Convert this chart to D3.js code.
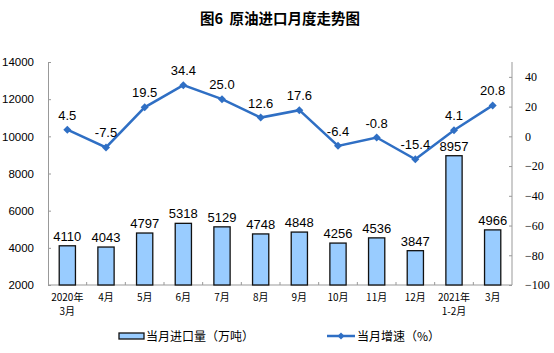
<!DOCTYPE html>
<html><head><meta charset="utf-8">
<script src="https://cdn.jsdelivr.net/npm/d3@7"></script>
<style>body{margin:0;background:#fff}svg{display:block}</style>
</head><body>
<script>
const categories = [["2020年","3月"],["4月"],["5月"],["6月"],["7月"],["8月"],["9月"],["10月"],["11月"],["12月"],["2021年","1-2月"],["3月"]];
const imports = [4110,4043,4797,5318,5129,4748,4848,4256,4536,3847,8957,4966];
const growth = [4.5,-7.5,19.5,34.4,25.0,12.6,17.6,-6.4,-0.8,-15.4,4.1,20.8];
const leftTicks = [2000,4000,6000,8000,10000,12000,14000];
const rightTicks = [-100,-80,-60,-40,-20,0,20,40];
const title = "图6  原油进口月度走势图";
const legendBar = "当月进口量（万吨）";
const legendLine = "当月增速（%）";

const W=554,H=353;
const svg=d3.select("body").append("svg").attr("width",W).attr("height",H);
const x0=48,x1=512,yTop=62,yBot=285;
const x=d3.scaleBand().domain(d3.range(categories.length)).range([x0,x1]).paddingInner(0.58).paddingOuter(0.29);
const xb=d3.scaleBand().domain(d3.range(categories.length)).range([x0,x1]);
const yL=d3.scaleLinear().domain([2000,14000]).range([yBot,yTop]);
const yR=d3.scaleLinear().domain([-100,50]).range([yBot,yTop]);
const blue="#2F6FC4";

svg.append("text").attr("x",280).attr("y",24).attr("text-anchor","middle").style("white-space","pre")
 .attr("font-family","Noto Sans CJK SC").attr("font-weight","bold").attr("font-size",14.5).text(title);

// left axis
const gL=svg.append("g").attr("transform",`translate(${x0},0)`)
 .call(d3.axisLeft(yL).tickValues(leftTicks).tickSize(-3).tickPadding(14).tickFormat(d3.format("d")));
gL.select(".domain").attr("stroke","#999");
gL.selectAll(".tick line").attr("stroke","#999");
gL.selectAll("text").attr("font-family","Liberation Sans").attr("font-size",11.5).attr("fill","#000");
// right axis
const gR=svg.append("g").attr("transform",`translate(${x1},0)`)
 .call(d3.axisRight(yR).tickValues(rightTicks).tickSize(-3).tickPadding(13));
gR.select(".domain").attr("stroke","#999").attr("d",`M0,${yTop}V${yBot}`);
gR.selectAll(".tick line").attr("stroke","#999");
gR.selectAll("text").attr("font-family","Liberation Serif").attr("font-size",12).attr("fill","#000").attr("text-anchor","start");
// bottom axis
svg.append("line").attr("x1",x0).attr("x2",x1).attr("y1",yBot).attr("y2",yBot).attr("stroke","#999");
svg.append("g").selectAll("line").data(d3.range(1,categories.length)).join("line")
 .attr("x1",d=>xb(d)).attr("x2",d=>xb(d)).attr("y1",yBot).attr("y2",yBot-3).attr("stroke","#999");

// bars
svg.append("g").selectAll("rect").data(imports).join("rect")
 .attr("x",(d,i)=>x(i)).attr("width",x.bandwidth()).attr("y",d=>yL(d)).attr("height",d=>yBot-yL(d))
 .attr("fill","#99CCFF").attr("stroke","#111").attr("stroke-width",1.3);
svg.append("g").selectAll("text").data(imports).join("text")
 .attr("x",(d,i)=>x(i)+x.bandwidth()/2).attr("y",d=>yL(d)-5).attr("text-anchor","middle")
 .attr("font-family","Liberation Sans").attr("font-size",13).text(d=>d);

// line
const cx=i=>xb(i)+xb.bandwidth()/2;
svg.append("path").datum(growth).attr("fill","none").attr("stroke",blue).attr("stroke-width",2.5)
 .attr("d",d3.line().x((d,i)=>cx(i)).y(d=>yR(d)));
svg.append("g").selectAll("path").data(growth).join("path")
 .attr("transform",(d,i)=>`translate(${cx(i)},${yR(d)})`)
 .attr("d","M0,-4L4,0L0,4L-4,0Z").attr("fill",blue);
svg.append("g").selectAll("text").data(growth).join("text")
 .attr("x",(d,i)=>cx(i)).attr("y",d=>yR(d)-10).attr("text-anchor","middle")
 .attr("font-family","Liberation Sans").attr("font-size",13).text(d=>d.toFixed(1));

// x labels
const xl=svg.append("g").selectAll("text").data(categories).join("text")
 .attr("x",(d,i)=>cx(i)).attr("y",301).attr("text-anchor","middle")
 .attr("font-family","Noto Sans CJK SC").attr("font-size",10);
xl.selectAll("tspan").data(d=>d).join("tspan").attr("x",function(){return this.parentNode.getAttribute("x");})
 .attr("dy",(d,i)=>i?14:0).text(d=>d);

// legend
svg.append("rect").attr("x",119).attr("y",333).attr("width",25).attr("height",6).attr("fill","#99CCFF").attr("stroke","#111").attr("stroke-width",1.3);
svg.append("text").attr("x",146).attr("y",341).attr("font-family","Noto Sans CJK SC").attr("font-size",12).text(legendBar);
svg.append("line").attr("x1",327).attr("x2",355).attr("y1",336).attr("y2",336).attr("stroke",blue).attr("stroke-width",2.5);
svg.append("path").attr("transform","translate(341,336)").attr("d","M0,-3.5L3.5,0L0,3.5L-3.5,0Z").attr("fill",blue);
svg.append("text").attr("x",357).attr("y",341).attr("font-family","Noto Sans CJK SC").attr("font-size",12).text(legendLine);
</script>
</body></html>
